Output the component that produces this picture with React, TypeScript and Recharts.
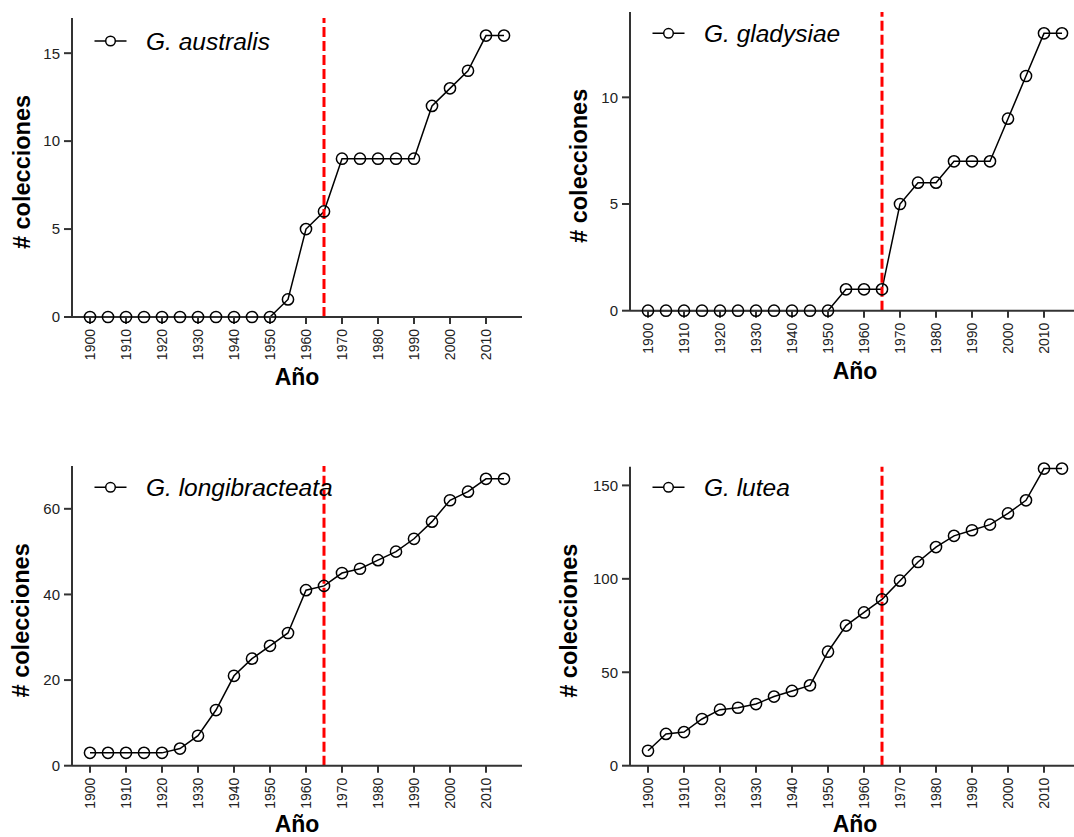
import React from 'react';
import { LineChart, Line, XAxis, YAxis, ReferenceLine, Label } from 'recharts';

const years = [1900, 1905, 1910, 1915, 1920, 1925, 1930, 1935, 1940, 1945, 1950, 1955, 1960, 1965, 1970, 1975, 1980, 1985, 1990, 1995, 2000, 2005, 2010, 2015];
const xTicks = [1900, 1910, 1920, 1930, 1940, 1950, 1960, 1970, 1980, 1990, 2000, 2010];
const markerYear = 1965;

const australisCounts = [0, 0, 0, 0, 0, 0, 0, 0, 0, 0, 0, 1, 5, 6, 9, 9, 9, 9, 9, 12, 13, 14, 16, 16];
const gladysiaeCounts = [0, 0, 0, 0, 0, 0, 0, 0, 0, 0, 0, 1, 1, 1, 5, 6, 6, 7, 7, 7, 9, 11, 13, 13];
const longibracteataCounts = [3, 3, 3, 3, 3, 4, 7, 13, 21, 25, 28, 31, 41, 42, 45, 46, 48, 50, 53, 57, 62, 64, 67, 67];
const luteaCounts = [8, 17, 18, 25, 30, 31, 33, 37, 40, 43, 61, 75, 82, 89, 99, 109, 117, 123, 126, 129, 135, 142, 159, 159];

const australisTicks = [0, 5, 10, 15];
const gladysiaeTicks = [0, 5, 10];
const longibracteataTicks = [0, 20, 40, 60];
const luteaTicks = [0, 50, 100, 150];

const FONT = '"Liberation Sans", Arial, Helvetica, sans-serif';
const AXIS = '#333';
const H = 418;
const YW = 72;
const XH = 50;

const XTick = (props: any) => {
  const { x, y, payload } = props;
  return (
    <text
      x={x}
      y={y}
      transform={`rotate(-90 ${x} ${y})`}
      textAnchor="end"
      dy="0.35em"
      fontSize={14}
      fill="#222"
      fontFamily={FONT}
    >
      {payload.value}
    </text>
  );
};

type PanelProps = {
  left: number;
  top: number;
  width: number;
  margin: { top: number; right: number; bottom: number; left: number };
  counts: number[];
  yMax: number;
  yTicks: number[];
  name: string;
  yLabelGap: number;
  legendDy: number;
  xLabelDy: number;
};

function Panel({ left, top, width, margin, counts, yMax, yTicks, name, yLabelGap, legendDy, xLabelDy }: PanelProps) {
  const data = years.map((year, i) => ({ year, value: counts[i] }));
  const plotLeft = margin.left + YW;
  const plotRight = width - margin.right;
  const plotTop = margin.top;
  const plotBottom = H - margin.bottom - XH;
  const cx = (plotLeft + plotRight) / 2;
  const cy = (plotTop + plotBottom) / 2 + 4.5;
  const lx = plotLeft + 38.5;
  const ly = plotTop + legendDy;
  const ylx = plotLeft - yLabelGap;

  return (
    <div style={{ position: 'absolute', left, top, width, height: H }}>
      <LineChart width={width} height={H} data={data} margin={margin}>
        <XAxis
          dataKey="year"
          type="number"
          domain={[1895, 2020]}
          ticks={xTicks}
          interval={0}
          height={XH}
          tickSize={7}
          tickMargin={5}
          tick={<XTick />}
          axisLine={{ stroke: AXIS, strokeWidth: 2 }}
          tickLine={{ stroke: AXIS, strokeWidth: 2 }}
        >
          <Label
            content={() => (
              <text
                x={cx}
                y={plotBottom + xLabelDy}
                textAnchor="middle"
                fontSize={23}
                fontWeight="bold"
                fill="#000"
                fontFamily={FONT}
              >
                Año
              </text>
            )}
          />
        </XAxis>
        <YAxis
          type="number"
          domain={[0, yMax]}
          ticks={yTicks}
          interval={0}
          width={YW}
          tickSize={8}
          tickMargin={4}
          tick={{ fontSize: 15, fill: '#222', fontFamily: FONT }}
          axisLine={{ stroke: AXIS, strokeWidth: 2 }}
          tickLine={{ stroke: AXIS, strokeWidth: 2 }}
        >
          <Label
            content={() => (
              <g>
                <text
                  x={ylx}
                  y={cy}
                  transform={`rotate(-90 ${ylx} ${cy})`}
                  textAnchor="middle"
                  dy="0.36em"
                  fontSize={23.5}
                  fontWeight="bold"
                  fill="#000"
                  fontFamily={FONT}
                >
                  # colecciones
                </text>
                <line x1={lx - 16} y1={ly} x2={lx + 16} y2={ly} stroke="#000" strokeWidth={1.5} />
                <circle cx={lx} cy={ly} r={4.8} fill="#fff" stroke="#000" strokeWidth={1.5} />
                <text
                  x={lx + 35.5}
                  y={ly + 9}
                  fontSize={24.5}
                  fontStyle="italic"
                  fill="#000"
                  fontFamily={FONT}
                >
                  {name}
                </text>
              </g>
            )}
          />
        </YAxis>
        <Line
          type="linear"
          dataKey="value"
          stroke="#000"
          strokeWidth={1.5}
          dot={{ r: 5.6, fill: 'none', stroke: '#000', strokeWidth: 1.5 }}
          activeDot={false}
          isAnimationActive={false}
        />
        <ReferenceLine
          x={markerYear}
          stroke="#ff0000"
          strokeWidth={3}
          strokeDasharray="10 4"
        />
      </LineChart>
    </div>
  );
}

export default function App() {
  return (
    <div
      style={{
        position: 'absolute',
        left: 0,
        top: 0,
        width: 1074,
        height: 837,
        background: '#fff',
        fontFamily: FONT,
        overflow: 'hidden',
      }}
    >
      <Panel
        left={0}
        top={0}
        width={537}
        margin={{ top: 18, right: 15, bottom: 51, left: 0 }}
        counts={australisCounts}
        yMax={17}
        yTicks={australisTicks}
        name="G. australis"
        yLabelGap={50}
        legendDy={23}
        xLabelDy={68}
      />
      <Panel
        left={537}
        top={0}
        width={545}
        margin={{ top: 12, right: 2, bottom: 57.3, left: 21 }}
        counts={gladysiaeCounts}
        yMax={14}
        yTicks={gladysiaeTicks}
        name="G. gladysiae"
        yLabelGap={51}
        legendDy={21.3}
        xLabelDy={68}
      />
      <Panel
        left={0}
        top={418}
        width={537}
        margin={{ top: 48, right: 15, bottom: 20.3, left: 0 }}
        counts={longibracteataCounts}
        yMax={70}
        yTicks={longibracteataTicks}
        name="G. longibracteata"
        yLabelGap={51}
        legendDy={21.3}
        xLabelDy={66}
      />
      <Panel
        left={537}
        top={418}
        width={545}
        margin={{ top: 48.7, right: 2, bottom: 20.3, left: 21 }}
        counts={luteaCounts}
        yMax={160}
        yTicks={luteaTicks}
        name="G. lutea"
        yLabelGap={61}
        legendDy={20.6}
        xLabelDy={66}
      />
    </div>
  );
}
